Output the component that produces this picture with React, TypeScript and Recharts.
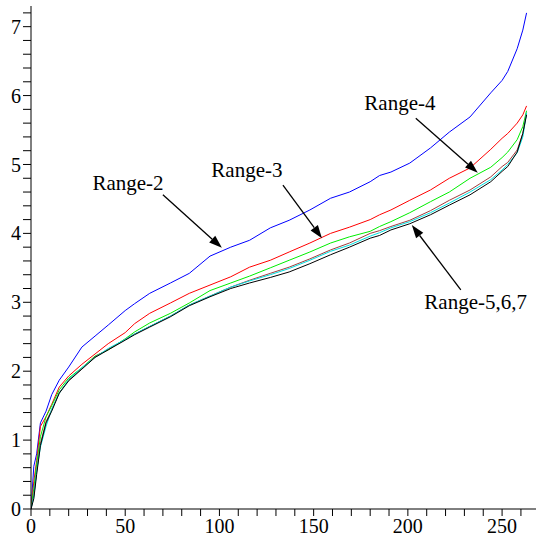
import React from 'react';
import { LineChart, Line, XAxis, YAxis, ReferenceLine, ReferenceDot } from 'recharts';

const xValues = [0, 1.5, 3, 5, 8, 11, 15, 20, 27, 34, 41, 50, 55, 63, 74, 84, 95, 106, 116, 127, 137, 148, 159, 169, 180, 185, 191, 201, 212, 222, 233, 244, 250, 253, 258, 261, 263];

const range2 = [0, 0.62, 0.8, 1.25, 1.42, 1.66, 1.87, 2.06, 2.35, 2.51, 2.67, 2.88, 2.98, 3.13, 3.28, 3.42, 3.67, 3.8, 3.9, 4.08, 4.19, 4.34, 4.51, 4.6, 4.75, 4.84, 4.89, 5.02, 5.24, 5.47, 5.69, 6.04, 6.22, 6.35, 6.68, 6.95, 7.2];
const range3 = [0, 0.4, 0.7, 1.2, 1.34, 1.52, 1.77, 1.93, 2.1, 2.25, 2.4, 2.56, 2.69, 2.84, 2.99, 3.13, 3.25, 3.37, 3.51, 3.61, 3.73, 3.86, 4.0, 4.09, 4.2, 4.27, 4.34, 4.48, 4.63, 4.8, 4.95, 5.22, 5.38, 5.45, 5.6, 5.72, 5.85];
const range4 = [0, 0.3, 0.65, 1.05, 1.34, 1.5, 1.73, 1.9, 2.05, 2.22, 2.31, 2.47, 2.57, 2.7, 2.84, 2.99, 3.17, 3.28, 3.38, 3.5, 3.61, 3.73, 3.86, 3.95, 4.03, 4.1, 4.17, 4.3, 4.46, 4.6, 4.8, 4.96, 5.1, 5.18, 5.36, 5.55, 5.78];
const range5 = [0, 0.2, 0.55, 0.95, 1.27, 1.44, 1.69, 1.87, 2.04, 2.21, 2.32, 2.46, 2.54, 2.65, 2.8, 2.96, 3.09, 3.22, 3.32, 3.42, 3.51, 3.63, 3.76, 3.86, 4.0, 4.04, 4.1, 4.19, 4.33, 4.48, 4.63, 4.82, 4.97, 5.03, 5.21, 5.45, 5.75];
const range6 = [0, 0.18, 0.55, 0.9, 1.2, 1.45, 1.68, 1.88, 2.05, 2.2, 2.33, 2.46, 2.54, 2.65, 2.8, 2.96, 3.09, 3.22, 3.31, 3.4, 3.49, 3.61, 3.74, 3.83, 3.96, 4.01, 4.08, 4.17, 4.3, 4.44, 4.6, 4.78, 4.92, 5.0, 5.17, 5.4, 5.75];
const range7 = [0, 0.15, 0.5, 0.92, 1.25, 1.42, 1.68, 1.86, 2.03, 2.2, 2.31, 2.45, 2.53, 2.64, 2.79, 2.95, 3.08, 3.2, 3.28, 3.36, 3.44, 3.56, 3.69, 3.8, 3.93, 3.97, 4.05, 4.14, 4.27, 4.41, 4.56, 4.75, 4.9, 4.97, 5.18, 5.45, 5.72];

const xTicks = [0, 10, 20, 30, 40, 50, 60, 70, 80, 90, 100, 110, 120, 130, 140, 150, 160, 170, 180, 190, 200, 210, 220, 230, 240, 250, 260];
const yTicks = [0, 0.2, 0.4, 0.6, 0.8, 1, 1.2, 1.4, 1.6, 1.8, 2, 2.2, 2.4, 2.6, 2.8, 3, 3.2, 3.4, 3.6, 3.8, 4, 4.2, 4.4, 4.6, 4.8, 5, 5.2, 5.4, 5.6, 5.8, 6, 6.2, 6.4, 6.6, 6.8, 7, 7.2];

const labelTexts = ['Range-2', 'Range-3', 'Range-4', 'Range-5,6,7'];
const labelX = [51.5, 114.6, 195.8, 236];
const labelY = [4.73, 4.92, 5.89, 3.0];

const arrowFromX = [70, 133.7, 204.2, 228.1];
const arrowFromY = [4.56, 4.7, 5.67, 3.18];
const arrowToX = [101.3, 154.4, 237.1, 202.1];
const arrowToY = [3.79, 3.93, 4.88, 4.12];

const seriesKeys = ['r2', 'r3', 'r4', 'r5', 'r6', 'r7'];
const seriesColors = ['#0000ff', '#ff0000', '#00ee00', '#a03c3c', '#00e0e0', '#000000'];
const seriesValues = [range2, range3, range4, range5, range6, range7];

const data = xValues.map((x, i) => {
  const row: Record<string, number> = { x };
  seriesKeys.forEach((k, s) => {
    row[k] = seriesValues[s][i];
  });
  return row;
});

const FONT = 'Liberation Serif';

const isInt = (v: number) => Math.abs(v - Math.round(v)) < 1e-6;

const Arrow = (props: any) => {
  const { x1, y1, x2, y2 } = props;
  const ang = Math.atan2(y2 - y1, x2 - x1);
  const len = 13;
  const hw = 4.5;
  const bx = x2 - len * Math.cos(ang);
  const by = y2 - len * Math.sin(ang);
  const px = -Math.sin(ang) * hw;
  const py = Math.cos(ang) * hw;
  return (
    <g>
      <line x1={x1} y1={y1} x2={bx} y2={by} stroke="#000" strokeWidth={1.3} />
      <polygon points={`${x2},${y2} ${bx + px},${by + py} ${bx - px},${by - py}`} fill="#000" />
    </g>
  );
};

const makeLabel = (text: string) => (props: any) => (
  <text
    x={props.cx}
    y={props.cy}
    textAnchor="middle"
    dominantBaseline="central"
    fill="#000"
    fontFamily={FONT}
    fontSize={21}
  >
    {text}
  </text>
);

export default function App() {
  return (
    <div style={{ position: 'absolute', left: 0, top: 0, background: '#fff' }}>
      <LineChart
        width={536}
        height={550}
        data={data}
        margin={{ top: 6, right: 0, bottom: 0, left: 0 }}
      >
        <XAxis
          type="number"
          dataKey="x"
          domain={[0, 268]}
          ticks={xTicks}
          interval={0}
          height={41}
          stroke="#000"
          tickSize={7}
          tickMargin={3}
          tick={{ fill: '#000', fontSize: 20, fontFamily: FONT }}
          tickFormatter={(v: number) => (v % 50 === 0 ? String(v) : '')}
          allowDataOverflow
        />
        <YAxis
          type="number"
          domain={[0, 7.3]}
          ticks={yTicks}
          interval={0}
          width={31}
          stroke="#000"
          tickSize={8}
          tickMargin={2}
          tick={{ fill: '#000', fontSize: 20, fontFamily: FONT }}
          tickFormatter={(v: number) => (isInt(v) ? String(Math.round(v)) : '')}
          allowDataOverflow
        />
        {seriesKeys.map((k, s) => (
          <Line
            key={k}
            type="linear"
            dataKey={k}
            stroke={seriesColors[s]}
            strokeWidth={1}
            dot={false}
            activeDot={false}
            isAnimationActive={false}
          />
        ))}
        {labelTexts.map((t, i) => (
          <ReferenceLine
            key={'a' + i}
            segment={[
              { x: arrowFromX[i], y: arrowFromY[i] },
              { x: arrowToX[i], y: arrowToY[i] },
            ]}
            shape={Arrow}
            ifOverflow="visible"
          />
        ))}
        {labelTexts.map((t, i) => (
          <ReferenceDot
            key={'l' + i}
            x={labelX[i]}
            y={labelY[i]}
            r={0}
            shape={makeLabel(t)}
            ifOverflow="visible"
          />
        ))}
      </LineChart>
    </div>
  );
}
